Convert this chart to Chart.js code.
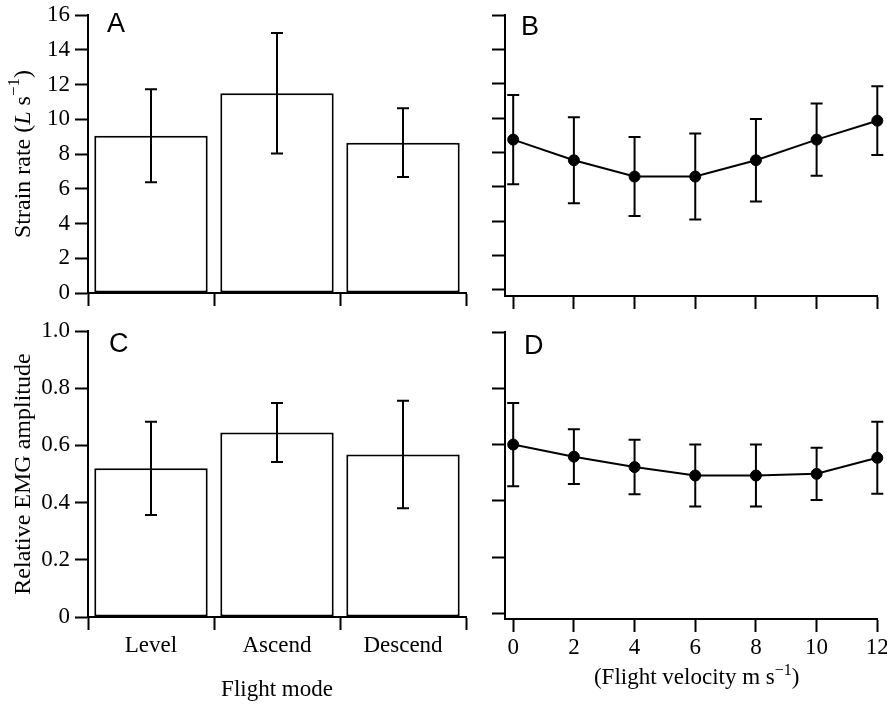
<!DOCTYPE html>
<html>
<head>
<meta charset="utf-8">
<script src="https://cdn.jsdelivr.net/npm/chart.js@4.4.1/dist/chart.umd.min.js"></script>
<style>
  html, body { margin: 0; padding: 0; background: #fff; overflow: hidden; }
  body { width: 887px; height: 704px; position: relative; }
  canvas { position: absolute; }
</style>
</head>
<body>
<canvas id="chartA" width="470" height="310" style="left:0;top:0"></canvas>
<canvas id="chartB" width="428" height="310" style="left:470px;top:0"></canvas>
<canvas id="chartC" width="470" height="394" style="left:0;top:310px"></canvas>
<canvas id="chartD" width="428" height="394" style="left:470px;top:310px"></canvas>
<script>
// data (means and +/- error)
const modes = ['Level', 'Ascend', 'Descend'];
const strainByMode = [9.05, 11.5, 8.65];
const strainByModeErr = [2.68, 3.47, 1.98];
const emgByMode = [0.52, 0.645, 0.568];
const emgByModeErr = [0.163, 0.103, 0.188];

const velocities = [0, 2, 4, 6, 8, 10, 12];
const strainByVelocity = [8.75, 7.55, 6.6, 6.6, 7.55, 8.75, 9.85];
const strainByVelocityErr = [2.6, 2.5, 2.3, 2.5, 2.4, 2.1, 2.0];
const emgByVelocity = [0.60, 0.557, 0.52, 0.49, 0.49, 0.496, 0.553];
const emgByVelocityErr = [0.148, 0.097, 0.097, 0.11, 0.11, 0.093, 0.128];

const SERIF = "'Liberation Serif', 'Times New Roman', serif";
const SANS = "'Liberation Sans', Arial, sans-serif";

Chart.defaults.font.family = SERIF;
Chart.defaults.font.size = 23;
Chart.defaults.color = '#000';

// vertical error bars with caps, drawn from the y scale
const errorBars = {
    id: 'errorBars',
    afterDatasetsDraw(chart, args, opts) {
        if (!opts.err) return;
        const meta = chart.getDatasetMeta(0);
        const yScale = chart.scales.y;
        const values = chart.data.datasets[0].data;
        const ctx = chart.ctx;
        ctx.save();
        ctx.strokeStyle = '#000';
        ctx.lineWidth = 2;
        meta.data.forEach((el, i) => {
            const v = typeof values[i] === 'object' ? values[i].y : values[i];
            const top = yScale.getPixelForValue(v + opts.err[i]);
            const bot = yScale.getPixelForValue(v - opts.err[i]);
            ctx.beginPath();
            ctx.moveTo(el.x, top); ctx.lineTo(el.x, bot);
            ctx.moveTo(el.x - 6, top); ctx.lineTo(el.x + 6, top);
            ctx.moveTo(el.x - 6, bot); ctx.lineTo(el.x + 6, bot);
            ctx.stroke();
        });
        ctx.restore();
    }
};

// text with italic / superscript parts (panel letters, rich axis titles)
function drawRich(ctx, item) {
    const fontFor = p => (p.italic ? 'italic ' : '') + Math.round(p.sup ? item.size * 0.7 : item.size) + 'px ' + item.family;
    let total = 0;
    item.parts.forEach(p => { ctx.font = fontFor(p); p.w = ctx.measureText(p.t).width; total += p.w; });
    ctx.save();
    ctx.translate(item.x, item.y);
    if (item.rotate) ctx.rotate(item.rotate);
    ctx.fillStyle = '#000';
    ctx.textBaseline = item.baseline || 'alphabetic';
    let x = item.center ? -total / 2 : 0;
    item.parts.forEach(p => {
        ctx.font = fontFor(p);
        ctx.fillText(p.t, x, p.sup ? -item.size * 0.38 : 0);
        x += p.w;
    });
    ctx.restore();
}

const panelText = {
    id: 'panelText',
    afterDraw(chart, args, opts) {
        (opts.items || []).forEach(item => drawRich(chart.ctx, item));
    }
};

function letter(t, x, y) {
    return { x: x, y: y, size: 27, family: SANS, parts: [{ t: t }] };
}

function axisGrid() {
    return { drawOnChartArea: false, color: '#000', tickLength: 13, tickWidth: 2 };
}
const axisBorder = { color: '#000', width: 2 };

function basePlugins(err, items) {
    return {
        legend: { display: false },
        tooltip: { enabled: false },
        errorBars: { err: err },
        panelText: { items: items }
    };
}

function barDataset(values) {
    return {
        data: values,
        backgroundColor: '#fff',
        borderColor: '#000',
        borderWidth: 2,
        borderSkipped: false,
        barPercentage: 0.9,
        categoryPercentage: 1
    };
}

function lineDataset(values) {
    return {
        data: velocities.map((v, i) => ({ x: v, y: values[i] })),
        borderColor: '#000',
        backgroundColor: '#000',
        borderWidth: 2,
        pointRadius: 5.5,
        pointBorderWidth: 1,
        pointBackgroundColor: '#000',
        clip: false
    };
}

// small lineHeight keeps the label padding from pushing the plot area in
const yTickFont = { size: 23, lineHeight: 0.6 };

// A: strain rate by flight mode
new Chart(document.getElementById('chartA'), {
    type: 'bar',
    data: { labels: modes, datasets: [barDataset(strainByMode)] },
    options: {
        responsive: false, animation: false,
        layout: { padding: { top: 15, right: 4, bottom: 0, left: 0 } },
        plugins: basePlugins(strainByModeErr, [
            letter('A', 107, 32),
            { x: 23.4, y: 154, rotate: -Math.PI / 2, center: true, baseline: 'middle', size: 24, family: SERIF,
              parts: [{ t: 'Strain rate (' }, { t: 'L', italic: true }, { t: ' s' }, { t: '\u22121', sup: true }, { t: ')' }] }
        ]),
        scales: {
            x: {
                grid: Object.assign(axisGrid(), { offset: true }), border: axisBorder,
                ticks: { display: false },
                afterFit: s => { s.height = 17; }
            },
            y: {
                min: 0, max: 16,
                ticks: { stepSize: 2, padding: 5, font: yTickFont },
                grid: axisGrid(), border: axisBorder,
                afterFit: s => { s.width = 88; }
            }
        }
    },
    plugins: [errorBars, panelText]
});

// B: strain rate by flight velocity
new Chart(document.getElementById('chartB'), {
    type: 'line',
    data: { datasets: [lineDataset(strainByVelocity)] },
    options: {
        responsive: false, animation: false,
        layout: { padding: { top: 15, right: 20.7, bottom: 0, left: 0 } },
        plugins: basePlugins(strainByVelocityErr, [letter('B', 51, 35)]),
        scales: {
            x: {
                type: 'linear', min: -0.27, max: 12,
                ticks: { stepSize: 2, includeBounds: false, display: false },
                grid: axisGrid(), border: axisBorder,
                afterFit: s => { s.height = 14; }
            },
            y: {
                min: -0.35, max: 16,
                ticks: { stepSize: 2, includeBounds: false, display: false },
                grid: axisGrid(), border: axisBorder,
                afterFit: s => { s.width = 35; }
            }
        }
    },
    plugins: [errorBars, panelText]
});

// C: EMG amplitude by flight mode
new Chart(document.getElementById('chartC'), {
    type: 'bar',
    data: { labels: modes, datasets: [barDataset(emgByMode)] },
    options: {
        responsive: false, animation: false,
        layout: { padding: { top: 21, right: 4, bottom: 0, left: 0 } },
        plugins: basePlugins(emgByModeErr, [letter('C', 109, 41.7)]),
        scales: {
            x: {
                grid: Object.assign(axisGrid(), { offset: true }), border: axisBorder,
                ticks: { padding: 2 },
                title: { display: true, text: 'Flight mode', padding: { top: 0, bottom: 0 } },
                afterFit: s => { s.height = 87; }
            },
            y: {
                min: 0, max: 1,
                ticks: { stepSize: 0.2, padding: 5, font: yTickFont, callback: v => v === 0 ? '0' : v.toFixed(1) },
                grid: axisGrid(), border: axisBorder,
                title: { display: true, text: 'Relative EMG amplitude', font: { size: 24 }, padding: { top: 9, bottom: 0 } },
                afterFit: s => { s.width = 88; }
            }
        }
    },
    plugins: [errorBars, panelText]
});

// D: EMG amplitude by flight velocity
new Chart(document.getElementById('chartD'), {
    type: 'line',
    data: { datasets: [lineDataset(emgByVelocity)] },
    options: {
        responsive: false, animation: false,
        layout: { padding: { top: 22, right: 20.7, bottom: 0, left: 0 } },
        plugins: basePlugins(emgByVelocityErr, [
            letter('D', 54, 44),
            { x: 226.7, y: 374, center: true, size: 23, family: SERIF,
              parts: [{ t: '(Flight velocity m s' }, { t: '\u22121', sup: true }, { t: ')' }] }
        ]),
        scales: {
            x: {
                type: 'linear', min: -0.27, max: 12,
                ticks: { stepSize: 2, includeBounds: false, padding: 2 },
                grid: axisGrid(), border: axisBorder,
                afterFit: s => { s.height = 85; }
            },
            y: {
                min: -0.02, max: 1,
                ticks: { stepSize: 0.2, includeBounds: false, display: false },
                grid: axisGrid(), border: axisBorder,
                afterFit: s => { s.width = 35; }
            }
        }
    },
    plugins: [errorBars, panelText]
});
</script>
</body>
</html>
